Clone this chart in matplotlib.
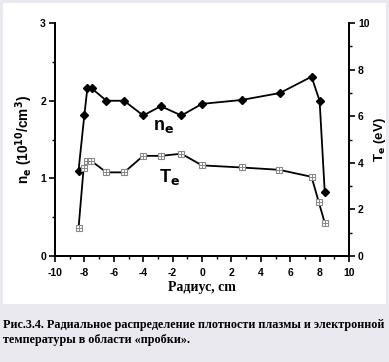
import matplotlib.pyplot as plt
from matplotlib.patches import Rectangle
from matplotlib.ticker import MultipleLocator

plt.rcParams['axes.unicode_minus'] = False

# radial profiles
ne_r = [-8.4, -8.0, -7.8, -7.5, -6.5, -5.3, -4.0, -2.8, -1.4, 0.0, 2.7, 5.3, 7.45, 8.0, 8.35]
ne = [1.10, 1.82, 2.16, 2.16, 2.00, 2.00, 1.81, 1.93, 1.81, 1.96, 2.01, 2.10, 2.31, 2.00, 0.82]

te_r = [-8.4, -8.05, -7.8, -7.55, -6.5, -5.3, -4.0, -2.8, -1.4, 0.0, 2.7, 5.25, 7.45, 7.95, 8.35]
te = [1.19, 3.79, 4.09, 4.09, 3.59, 3.59, 4.30, 4.30, 4.39, 3.89, 3.80, 3.70, 3.40, 2.30, 1.42]

caption = ['Рис.3.4. Радиальное распределение плотности плазмы и электронной',
           'температуры в области «пробки».']

fig = plt.figure(figsize=(3.89, 3.62), dpi=100)
fig.patch.set_facecolor('#e9e9ef')
fig.patches.append(Rectangle((0.008, 0.16), 0.985, 0.832, transform=fig.transFigure,
                             facecolor='white', edgecolor='none', zorder=-5))

ax = fig.add_axes([0.1414, 0.293, 0.7558, 0.643])
ax2 = ax.twinx()
ax.set_facecolor('none')
ax2.set_facecolor('none')

ax.plot(ne_r, ne, color='black', lw=1.3, marker='D', ms=4.5, zorder=3)
ax2.plot(te_r, te, color='black', lw=1.3, zorder=2)
ax2.plot(te_r, te, ls='none', marker='s', ms=5, mfc='white', mec='#888888', mew=0.8, zorder=3)
ax2.plot(te_r, te, ls='none', marker='+', ms=5, mec='#888888', mew=0.7, zorder=4)

ax.set_xlim(-10, 10)
ax.set_ylim(0, 3)
ax2.set_ylim(0, 10)
ax.xaxis.set_major_locator(MultipleLocator(2))
ax.xaxis.set_minor_locator(MultipleLocator(1))
ax.yaxis.set_major_locator(MultipleLocator(1))
ax.yaxis.set_minor_locator(MultipleLocator(0.5))
ax2.yaxis.set_major_locator(MultipleLocator(2))
ax2.yaxis.set_minor_locator(MultipleLocator(1))

for a in (ax, ax2):
    a.spines['top'].set_visible(False)
    for s in a.spines.values():
        s.set_linewidth(1.3)
    a.tick_params(which='major', direction='out', length=4, width=1.2, labelsize=7.5, pad=2.5)
    a.tick_params(which='minor', direction='out', length=2.5, width=1.0)
    for lbl in a.get_xticklabels() + a.get_yticklabels():
        lbl.set_fontweight('bold')
        lbl.set_family('Liberation Sans')
ax.tick_params(axis='x', which='major', pad=5)

ax.set_xlabel('Радиус, cm', family='Liberation Serif', fontweight='bold', fontsize=10, labelpad=2)
ax.set_ylabel(r'n$_\mathbf{e}$ (10$^\mathbf{10}$/cm$^\mathbf{3}$)', family='Liberation Sans',
              fontweight='bold', fontsize=9.8, labelpad=4)
ax2.set_ylabel(r'T$_\mathbf{e}$ (eV)', family='Liberation Sans', fontweight='bold',
               fontsize=9.5, labelpad=2)

ax.text(-3.3, 1.62, r'n$_\mathbf{e}$', family='Liberation Sans', fontweight='bold', fontsize=13)
ax.text(-2.9, 0.95, r'T$_\mathbf{e}$', family='Liberation Sans', fontweight='bold', fontsize=13)

fig.text(0.008, 0.093, caption[0], family='Liberation Serif', fontweight='bold', fontsize=8.7)
fig.text(0.008, 0.052, caption[1], family='Liberation Serif', fontweight='bold', fontsize=8.7)

fig.savefig('out.png', dpi=100, facecolor=fig.get_facecolor())
